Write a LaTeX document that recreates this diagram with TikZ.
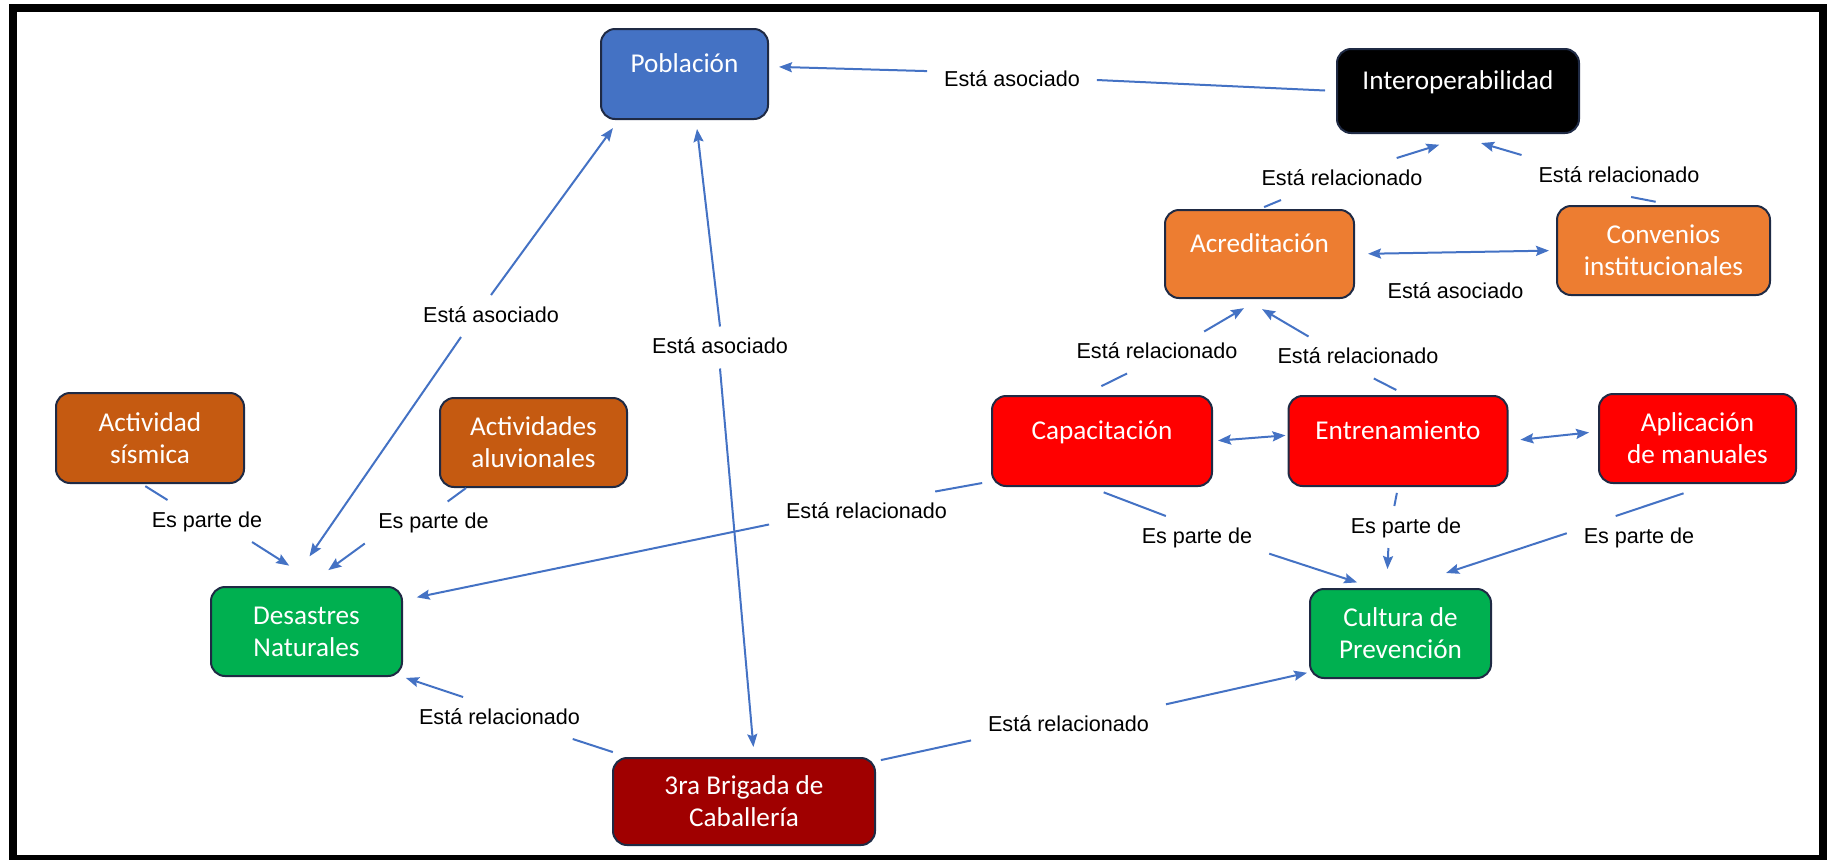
\documentclass[tikz,border=0pt]{standalone}
\usepackage{fontspec}
\usepackage{tikz}
\usetikzlibrary{positioning, arrows.meta}
\newfontfamily\conceptfont{Carlito}
\newfontfamily\linkfont{Liberation Sans}
\definecolor{myblue}{RGB}{68, 114, 196}
\definecolor{myorange}{RGB}{237, 125, 49}
\definecolor{mybrown}{RGB}{197, 90, 17}
\definecolor{myred}{RGB}{255, 0, 0}
\definecolor{mygreen}{RGB}{0, 176, 80}
\definecolor{mydarkred}{RGB}{160, 0, 0}
\definecolor{myborder}{RGB}{31, 42, 68}
\definecolor{myline}{RGB}{68, 114, 196}

\begin{document}
\begin{tikzpicture}[x = 0.5pt, y = -0.5pt, > = {Stealth[length = 6.5pt, width = 5pt, inset = 1pt]}, line width = 1pt,
  concept/.style = {draw = myborder, line width = 1pt, rounded corners = 7pt, text = white, align = center, minimum height = 44pt, font = \conceptfont\fontsize{13.6}{16}\selectfont},
  oneline/.style = {text height = 10pt, text depth = 12pt},
  link/.style = {font = \linkfont\fontsize{10.8}{13}\selectfont, inner xsep = 8pt, inner ysep = 5pt, text height = 8pt, text depth = 2pt},
  conn/.style = {draw = myline, line width = 1pt}]
  \useasboundingbox (0, 0) rectangle (1827, 859);
  \draw [line width = 4pt] (12.5, 7.5) rectangle (1823, 859);

  % nodes
  \node [concept, oneline, fill = myblue, minimum width = 83.5pt, minimum height = 45pt] (poblacion) at (684.5, 74) {Población};
  \node [concept, oneline, fill = black, minimum width = 121pt, minimum height = 42pt] (interop) at (1458, 91) {Interoperabilidad};
  \node [concept, oneline, fill = myorange, minimum width = 94.5pt] (acreditacion) at (1259.5, 254) {Acreditación};
  \node [concept, fill = myorange, minimum width = 106.5pt, minimum height = 44.5pt] (convenios) at (1663.5, 250.5) {Convenios\\institucionales};
  \node [concept, fill = mybrown, minimum width = 94pt, minimum height = 45pt] (sismica) at (150, 438) {Actividad\\sísmica};
  \node [concept, fill = mybrown, minimum width = 93.5pt, minimum height = 44.5pt] (aluvionales) at (533.5, 442.5) {Actividades\\aluvionales};
  \node [concept, oneline, fill = myred, minimum width = 110pt, minimum height = 45pt] (capacitacion) at (1102, 441) {Capacitación};
  \node [concept, oneline, fill = myred, minimum width = 109.5pt, minimum height = 45pt] [right = 37.25pt of capacitacion] (entrenamiento) {Entrenamiento};
  \node [concept, fill = myred, minimum width = 98.5pt, minimum height = 44.5pt] (aplicacion) at (1697.5, 438.5) {Aplicación\\de manuales};
  \node [concept, fill = mygreen, minimum width = 95.5pt, minimum height = 44.5pt] (desastres) at (306.5, 631.5) {Desastres\\Naturales};
  \node [concept, fill = mygreen, minimum width = 90.5pt, minimum height = 44.5pt] (cultura) at (1400.5, 633.5) {Cultura de\\Prevención};
  \node [concept, fill = mydarkred, minimum width = 131pt, minimum height = 43.5pt] (brigada) at (744, 801.5) {3ra Brigada de\\Caballería};

  % linking phrases
  \node [link] (l1) at (1012, 80) {Está asociado};
  \node [link] (l2) at (491, 316) {Está asociado};
  \node [link] (l3) at (720, 347.5) {Está asociado};
  \node [link] (l4) at (1342, 179) {Está relacionado};
  \node [link] (l5) at (1619, 176) {Está relacionado};
  \node [link] (l7) at (1157, 352.5) {Está relacionado};
  \node [link] (l8) at (1358, 357.5) {Está relacionado};
  \node [link] (l11) at (866.5, 512.5) {Está relacionado};
  \node [link] (l12) at (1197, 537) {Es parte de};
  \node [link] (l13) at (1406, 527) {Es parte de};
  \node [link] (l14) at (1639, 537) {Es parte de};
  \node [link] (l15) at (207, 521) {Es parte de};
  \node [link] (l16) at (433.5, 522.5) {Es parte de};
  \node [link] (l17) at (499.5, 718) {Está relacionado};
  \node [link] (l18) at (1068.5, 725) {Está relacionado};

  % edges
  \draw [conn, shorten <= 5.5pt] (interop.west) -- (l1.east);
  \draw [conn, ->, shorten >= 5pt] (l1.174) -- (poblacion.5);

  \draw [conn, ->, shorten >= 5pt] (l2.north) -- (poblacion.215);
  \draw [conn, ->, shorten >= 18pt] (l2.215) -- (desastres.111);

  \draw [conn, ->, shorten >= 4.5pt] (l3.north) -- (poblacion.284);
  \draw [conn, ->, shorten >= 5pt] (l3.south) -- (brigada.77);

  \draw [conn, shorten <= 2.5pt] (acreditacion.north) -- (l4.199);
  \draw [conn, ->, shorten >= 18pt] (l4.21) -- (interop.290);

  \draw [conn, shorten <= 8.5pt] (convenios.79) -- (l5.300);
  \draw [conn, ->, shorten >= 16pt] (l5.north west) -- (interop.260);

  \draw [conn, <->, shorten <= 6.5pt, shorten >= 3.5pt] (acreditacion.east) -- node [link, yshift = -20pt] (l6) {Está asociado} (convenios.west);

  \draw [conn, shorten <= 10pt] (capacitacion.112) -- (l7.215);
  \draw [conn, ->, shorten >= 9pt] (l7.24) -- (acreditacion.south);

  \draw [conn, shorten <= 5.5pt] (entrenamiento.80) -- (l8.307);
  \draw [conn, ->, shorten >= 10pt] (l8.157) -- (acreditacion.252);

  \draw [conn, <->, shorten <= 2.5pt, shorten >= 1pt] (capacitacion.east) -- (entrenamiento.177);
  \draw [conn, <->, shorten <= 6pt, shorten >= 4.5pt] (entrenamiento.east) -- (aplicacion.176);

  \draw [conn, shorten <= 4.5pt] (capacitacion.200) -- (l11.17);
  \draw [conn, ->, shorten >= 7pt] (l11.187) -- (desastres.18);

  \draw [conn, shorten <= 7.5pt] (capacitacion.255) -- (l12.146);
  \draw [conn, ->, shorten >= 9pt] (l12.347) -- (cultura.120);

  \draw [conn, shorten <= 3pt] (entrenamiento.south) -- (l13.119);
  \draw [conn, ->, shorten >= 9.5pt] (l13.230) -- (cultura.107);

  \draw [conn, shorten <= 14.7pt] (aplicacion.287) -- (l14.138);
  \draw [conn, ->, shorten >= 24pt] (l14.177) -- (cultura.north);

  \draw [conn, shorten <= 2pt] (sismica.260) -- (l15.152);
  \draw [conn, ->, shorten >= 19pt] (l15.335) -- (desastres.72);

  \draw [conn] (aluvionales.214) -- (l16.56);
  \draw [conn, ->, shorten >= 13.5pt] (l16.197) -- (desastres.north);

  \draw [conn, shorten <= 8pt] (brigada.159) -- (l17.344);
  \draw [conn, ->, shorten >= 1.5pt] (l17.150) -- (desastres.south east);

  \draw [conn, shorten <= 2.5pt] (brigada.17) -- (l18.189);
  \draw [conn, ->, shorten >= 1pt] (l18.12) -- (cultura.203);

\end{tikzpicture}
\end{document}
